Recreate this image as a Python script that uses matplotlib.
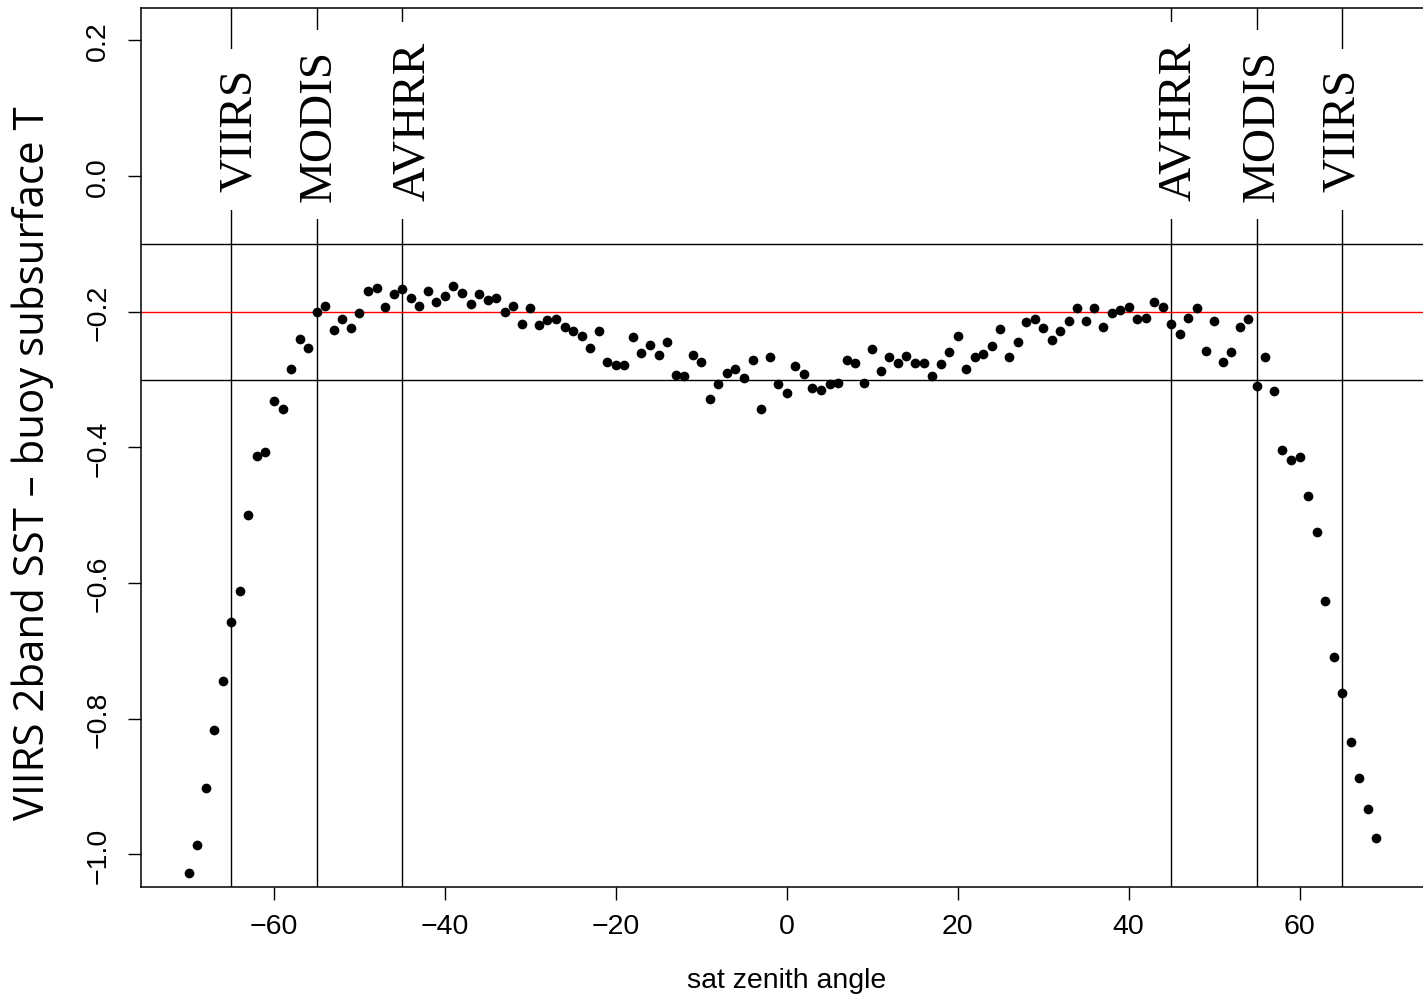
import matplotlib
matplotlib.use("Agg")
import matplotlib.pyplot as plt
import numpy as np

# ---- data ----
zenith = list(range(-70, 70))
sst_diff = [
    -1.028, -0.986, -0.902, -0.816, -0.745, -0.658, -0.612, -0.499, -0.412, -0.407,
    -0.332, -0.343, -0.284, -0.240, -0.254, -0.200, -0.191, -0.227, -0.211, -0.224,
    -0.202, -0.169, -0.165, -0.193, -0.174, -0.167, -0.180, -0.191, -0.169, -0.186,
    -0.176, -0.162, -0.173, -0.188, -0.174, -0.183, -0.180, -0.201, -0.191, -0.218,
    -0.194, -0.220, -0.212, -0.211, -0.223, -0.228, -0.236, -0.254, -0.229, -0.274,
    -0.278, -0.279, -0.237, -0.261, -0.249, -0.264, -0.244, -0.293, -0.295, -0.263,
    -0.274, -0.329, -0.307, -0.290, -0.284, -0.297, -0.271, -0.344, -0.267, -0.306,
    -0.319, -0.280, -0.292, -0.313, -0.315, -0.307, -0.305, -0.271, -0.276, -0.305,
    -0.255, -0.288, -0.266, -0.276, -0.265, -0.276, -0.276, -0.295, -0.277, -0.260,
    -0.236, -0.285, -0.266, -0.262, -0.250, -0.226, -0.266, -0.244, -0.215, -0.210,
    -0.224, -0.242, -0.228, -0.213, -0.194, -0.213, -0.194, -0.222, -0.202, -0.198,
    -0.193, -0.211, -0.209, -0.186, -0.193, -0.218, -0.233, -0.209, -0.195, -0.258,
    -0.214, -0.274, -0.259, -0.223, -0.211, -0.310, -0.267, -0.317, -0.404, -0.418,
    -0.414, -0.472, -0.524, -0.627, -0.709, -0.762, -0.834, -0.888, -0.933, -0.976,
]
sensor_angles = [-65, -55, -45, 45, 55, 65]
sensor_names = ["VIIRS", "MODIS", "AVHRR", "AVHRR", "MODIS", "VIIRS"]
sensor_label_x = [-64.0, -54.7, -43.8, 45.9, 55.7, 65.0]
sensor_label_y = [0.069, 0.076, 0.082, 0.082, 0.076, 0.069]
band_lines = [-0.1, -0.3]
ref_line = -0.2
xticks = [-60, -40, -20, 0, 20, 40, 60]
yticks = [-1.0, -0.8, -0.6, -0.4, -0.2, 0.0, 0.2]

W, H = 1423, 995
fig = plt.figure(figsize=(W / 100, H / 100), dpi=100)
ax = fig.add_axes([141 / W, 1 - 888 / H, (1424 - 141) / W, (888 - 8.9) / H])

ax.set_xlim(-75.56, 74.56)
ax.set_ylim(-1.048, 0.248)

lw = 1.0
for v in sensor_angles:
    ax.axvline(v, color="black", lw=lw, zorder=1)
for h in band_lines:
    ax.axhline(h, color="black", lw=lw, zorder=1)
ax.axhline(ref_line, color="red", lw=lw, zorder=1)

ax.plot(zenith, sst_diff, "o", color="black", ms=7.0, mew=0, zorder=4)

for name, lx, ly in zip(sensor_names, sensor_label_x, sensor_label_y):
    ax.text(lx, ly, name, rotation=90, ha="center", va="center",
            fontsize=34, family="Liberation Serif", zorder=3,
            bbox=dict(facecolor="white", edgecolor="none", boxstyle="square,pad=0.4"))

ax.set_xticks(xticks)
ax.set_xticklabels([f"{t:d}".replace("-", "\u2212") for t in xticks])
ax.set_yticks(yticks)
ax.set_yticklabels([("0.0" if abs(t) < 1e-9 else f"{t:.1f}".replace("-", "\u2212")) for t in yticks])
ax.tick_params(axis="both", direction="out", length=9.5, width=1.0, labelsize=20.5)
ax.tick_params(axis="x", pad=9)
ax.tick_params(axis="y", pad=12)
for lab in ax.get_yticklabels():
    lab.set_rotation(90)
    lab.set_va("center")
for lab in ax.get_xticklabels() + ax.get_yticklabels():
    lab.set_family("Liberation Sans")
for s in ax.spines.values():
    s.set_linewidth(1.1)

fig.text(787 / W, 1 - 981 / H, "sat zenith angle", ha="center", va="center",
         fontsize=20.5, family="Liberation Sans")

# y label, sized to its length in the reference
ylab = fig.text(33 / W, 1 - 463 / H, "VIIRS 2band SST \u2013 buoy subsurface T",
                rotation=90, ha="center", va="center", fontsize=30, family="Open Sans")
fig.canvas.draw()
ext = ylab.get_window_extent(fig.canvas.get_renderer())
ylab.set_fontsize(30 * 715 / ext.height)

fig.savefig("out.png", dpi=100)
